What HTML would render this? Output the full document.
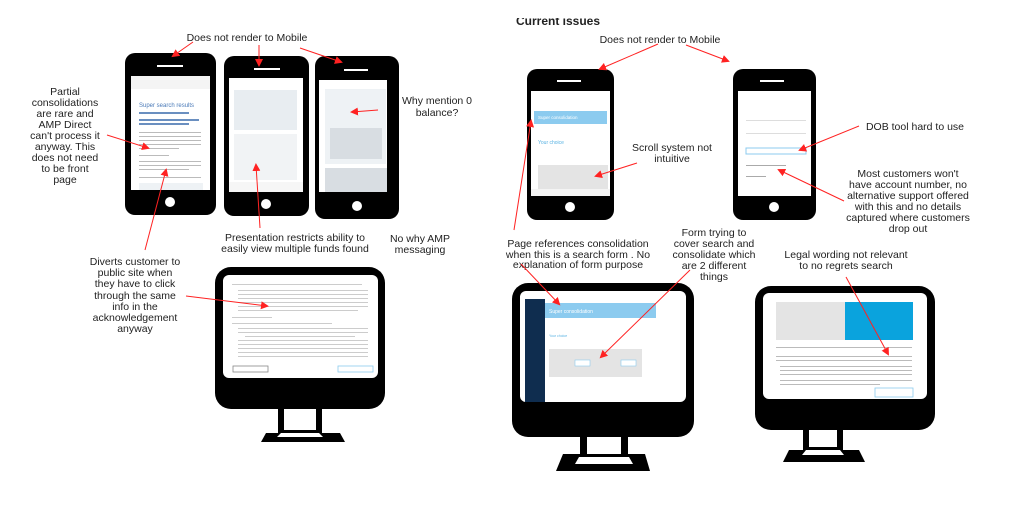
<!DOCTYPE html>
<html><head><meta charset="utf-8"><style>
html,body{margin:0;padding:0;background:#fff;width:1024px;height:514px;overflow:hidden}
svg{display:block}
text{font-family:"Liberation Sans",Arial,sans-serif;font-size:10.5px;fill:#222;text-anchor:middle}
.s{font-size:4px;fill:#999;text-anchor:start}
</style></head><body>
<svg width="1024" height="514" viewBox="0 0 1024 514" xmlns="http://www.w3.org/2000/svg">
<defs>
<marker id="a" markerWidth="8" markerHeight="8" refX="6" refY="4" orient="auto" markerUnits="userSpaceOnUse"><path d="M0,0 L8,4 L0,8 z" fill="#f22"/></marker>
</defs>

<g>
<rect x="125" y="53" width="91" height="162" rx="10" fill="#000"/>
<rect x="157" y="65" width="26" height="2" fill="#fff"/>
<rect x="131" y="76" width="79" height="114" fill="#fff"/>
<circle cx="170" cy="202" r="5" fill="#fff"/>
<text x="139" y="107" style="font-size:6px;fill:#4a7ab8;text-anchor:start">Super search results</text>
<rect x="139" y="112" width="50" height="2" fill="#6a8fc0"/>
<rect x="139" y="119" width="60" height="2" fill="#6a8fc0"/>
<rect x="139" y="123" width="50" height="2" fill="#6a8fc0"/>
<rect x="139" y="132" width="62" height="1" fill="#bbb"/><rect x="139" y="136" width="62" height="1" fill="#bbb"/><rect x="139" y="140" width="62" height="1" fill="#bbb"/><rect x="139" y="144" width="62" height="1" fill="#bbb"/><rect x="139" y="148" width="40" height="1" fill="#bbb"/>
<rect x="139" y="155" width="30" height="1" fill="#bbb"/><rect x="139" y="161" width="62" height="1" fill="#bbb"/><rect x="139" y="165" width="62" height="1" fill="#bbb"/><rect x="139" y="169" width="50" height="1" fill="#bbb"/><rect x="139" y="177" width="62" height="1" fill="#bbb"/>
<rect x="139" y="183" width="64" height="7" fill="#eef2f5"/>
<rect x="131" y="76" width="79" height="13" fill="#f4f4f4"/>
</g>
<g>
<rect x="224" y="56" width="85" height="160" rx="10" fill="#000"/>
<rect x="254" y="68" width="26" height="2" fill="#fff"/>
<rect x="229" y="78" width="74" height="114" fill="#fff"/>
<circle cx="266" cy="204" r="5" fill="#fff"/>
<rect x="234" y="90" width="63" height="40" fill="#e8edf1"/>
<rect x="234" y="134" width="63" height="46" fill="#f1f3f5"/>
<rect x="229" y="182" width="74" height="10" fill="#f6f6f6"/>
</g>
<g>
<rect x="315" y="56" width="84" height="163" rx="10" fill="#000"/>
<rect x="344" y="69" width="24" height="2" fill="#fff"/>
<rect x="319" y="80" width="68" height="112" fill="#fff"/>
<circle cx="357" cy="206" r="5" fill="#fff"/>
<rect x="325" y="89" width="61" height="75" fill="#eef2f5"/>
<rect x="330" y="128" width="52" height="31" fill="#d8dde2"/>
<rect x="325" y="168" width="62" height="24" fill="#d8dde2"/>
</g>
<g>
<rect x="527" y="69" width="87" height="151" rx="10" fill="#000"/>
<rect x="557" y="80" width="24" height="2" fill="#fff"/>
<rect x="531" y="91" width="79" height="105" fill="#fff"/>
<circle cx="570" cy="207" r="5" fill="#fff"/>
<rect x="534" y="111" width="73" height="13" fill="#8ccbef"/>
<text x="538" y="119" style="font-size:4.5px;fill:#fff;text-anchor:start">Super consolidation</text>
<text x="538" y="144" style="font-size:5px;fill:#5ab3e3;text-anchor:start">Your choice</text>
<rect x="538" y="165" width="70" height="24" fill="#e4e4e4"/>
<rect x="531" y="189" width="79" height="7" fill="#f4f4f4"/>
</g>
<g>
<rect x="733" y="69" width="83" height="151" rx="10" fill="#000"/>
<rect x="760" y="80" width="24" height="2" fill="#fff"/>
<rect x="738" y="91" width="73" height="105" fill="#fff"/>
<circle cx="774" cy="207" r="5" fill="#fff"/>
<rect x="746" y="148" width="60" height="6" fill="none" stroke="#8ccbef"/>
<rect x="746" y="120" width="60" height="1" fill="#ddd"/><rect x="746" y="133" width="60" height="1" fill="#ddd"/>
<rect x="746" y="165" width="40" height="1" fill="#aaa"/><rect x="746" y="176" width="20" height="1" fill="#aaa"/>
</g>

<g>
<rect x="215" y="267" width="170" height="142" rx="16" fill="#000"/>
<rect x="223" y="275" width="155" height="103" rx="6" fill="#fff"/>
<path d="M278,409 h44 v24 h18 l5,9 h-84 l5,-9 h12z" fill="#000"/>
<rect x="284" y="409" width="32" height="21" fill="#fff"/>
<path d="M281,433 h38 l4,4 h-46z" fill="#fff"/>
<g fill="#ccc">
<rect x="232" y="284" width="130" height="1"/><rect x="238" y="290" width="130" height="1"/><rect x="238" y="294" width="130" height="1"/><rect x="238" y="298" width="130" height="1"/><rect x="238" y="302" width="130" height="1"/><rect x="238" y="306" width="130" height="1"/><rect x="238" y="310" width="120" height="1"/><rect x="232" y="317" width="40" height="1"/><rect x="232" y="323" width="100" height="1"/><rect x="238" y="328" width="130" height="1"/><rect x="238" y="332" width="130" height="1"/><rect x="245" y="336" width="110" height="1"/><rect x="238" y="340" width="130" height="1"/><rect x="238" y="344" width="130" height="1"/><rect x="238" y="348" width="130" height="1"/><rect x="238" y="352" width="130" height="1"/><rect x="238" y="356" width="130" height="1"/>
</g>
<rect x="233" y="366" width="35" height="6" fill="none" stroke="#888" stroke-width="0.8"/>
<rect x="338" y="366" width="35" height="6" fill="none" stroke="#8ccbef" stroke-width="0.8"/>
</g>
<g>
<rect x="512" y="283" width="182" height="154" rx="16" fill="#000"/>
<rect x="520" y="291" width="166" height="111" rx="6" fill="#fff"/>
<path d="M580,437 h48 v17 h17 l5,17 h-94 l7,-17 h17z" fill="#000"/>
<rect x="587" y="437" width="34" height="17" fill="#fff"/>
<path d="M579,457 h50 l4,7 h-58z" fill="#fff"/>
<rect x="525" y="299" width="20" height="103" fill="#0f2d4f"/>
<rect x="545" y="303" width="111" height="15" fill="#8ccbef"/>
<text x="549" y="313" style="font-size:5px;fill:#fff;text-anchor:start">Super consolidation</text>
<text x="549" y="337" style="font-size:3.5px;fill:#5ab3e3;text-anchor:start">Your choice</text>
<rect x="549" y="349" width="93" height="28" fill="#e4e4e4"/>
<rect x="575" y="360" width="15" height="6" fill="#fff" stroke="#8ccbef" stroke-width="0.6"/>
<rect x="621" y="360" width="15" height="6" fill="#fff" stroke="#8ccbef" stroke-width="0.6"/>
</g>
<g>
<rect x="755" y="286" width="180" height="144" rx="16" fill="#000"/>
<rect x="763" y="293" width="164" height="106" rx="6" fill="#fff"/>
<path d="M803,430 h40 v20 h16 l6,12 h-82 l6,-12 h14z" fill="#000"/>
<rect x="809" y="430" width="28" height="17" fill="#fff"/>
<path d="M806,450 h34 l4,5 h-42z" fill="#fff"/>
<rect x="776" y="302" width="69" height="38" fill="#e4e4e4"/>
<rect x="845" y="302" width="68" height="38" fill="#0aa3dd"/>
<g fill="#bbb"><rect x="776" y="347" width="136" height="1"/><rect x="776" y="356" width="136" height="1"/><rect x="776" y="360" width="136" height="1"/><rect x="780" y="366" width="132" height="1"/><rect x="780" y="370" width="132" height="1"/><rect x="780" y="374" width="132" height="1"/><rect x="780" y="380" width="132" height="1"/><rect x="780" y="384" width="100" height="1"/></g>
<rect x="875" y="388" width="38" height="9" fill="#fff" stroke="#8ccbef" stroke-width="0.8"/>
</g>

<text x="247" y="41">Does not render to Mobile</text>
<g><text x="65" y="95">Partial</text><text x="65" y="106">consolidations</text><text x="65" y="117">are rare and</text><text x="65" y="128">AMP Direct</text><text x="65" y="139">can't process it</text><text x="65" y="150">anyway. This</text><text x="65" y="161">does not need</text><text x="65" y="172">to be front</text><text x="65" y="183">page</text></g>
<text x="437" y="104">Why mention 0</text><text x="437" y="116">balance?</text>
<text x="295" y="241">Presentation restricts ability to</text><text x="295" y="252">easily view multiple funds found</text>
<text x="420" y="242">No why AMP</text><text x="420" y="253">messaging</text>
<g><text x="135" y="265">Diverts customer to</text><text x="135" y="276">public site when</text><text x="135" y="287">they have to click</text><text x="135" y="299">through the same</text><text x="135" y="310">info in the</text><text x="135" y="321">acknowledgement</text><text x="135" y="332">anyway</text></g>

<text x="558" y="25" style="font-weight:bold;font-size:12px">Current issues</text>
<rect x="510" y="0" width="100" height="18" fill="#fff"/>
<text x="660" y="43">Does not render to Mobile</text>
<text x="672" y="151">Scroll system not</text><text x="672" y="162">intuitive</text>
<text x="915" y="130">DOB tool hard to use</text>
<g><text x="908" y="177">Most customers won't</text><text x="908" y="188">have account number, no</text><text x="908" y="199">alternative support offered</text><text x="908" y="210">with this and no details</text><text x="908" y="221">captured where customers</text><text x="908" y="232">drop out</text></g>
<text x="578" y="247">Page references consolidation</text><text x="578" y="258">when this is a search form . No</text><text x="578" y="268">explanation of form purpose</text>
<text x="714" y="236">Form trying to</text><text x="714" y="247">cover search and</text><text x="714" y="258">consolidate which</text><text x="714" y="269">are 2 different</text><text x="714" y="280">things</text>
<text x="846" y="258">Legal wording not relevant</text><text x="846" y="269">to no regrets search</text>

<g stroke="#f22" stroke-width="1" fill="none" marker-end="url(#a)">
<line x1="193" y1="42" x2="173" y2="56"/>
<line x1="259" y1="45" x2="259" y2="65"/>
<line x1="300" y1="48" x2="341" y2="62"/>
<line x1="107" y1="135" x2="148" y2="148"/>
<line x1="145" y1="250" x2="166" y2="170"/>
<line x1="260" y1="228" x2="256" y2="165"/>
<line x1="378" y1="110" x2="352" y2="112"/>
<line x1="186" y1="296" x2="267" y2="306"/>
<line x1="658" y1="44" x2="600" y2="69"/>
<line x1="686" y1="45" x2="728" y2="61"/>
<line x1="637" y1="163" x2="596" y2="176"/>
<line x1="859" y1="126" x2="800" y2="150"/>
<line x1="844" y1="201" x2="779" y2="170"/>
<line x1="514" y1="230" x2="531" y2="121"/>
<line x1="521" y1="264" x2="559" y2="304"/>
<line x1="690" y1="270" x2="601" y2="357"/>
<line x1="846" y1="277" x2="888" y2="354"/>
</g>
</svg>
</body></html>
